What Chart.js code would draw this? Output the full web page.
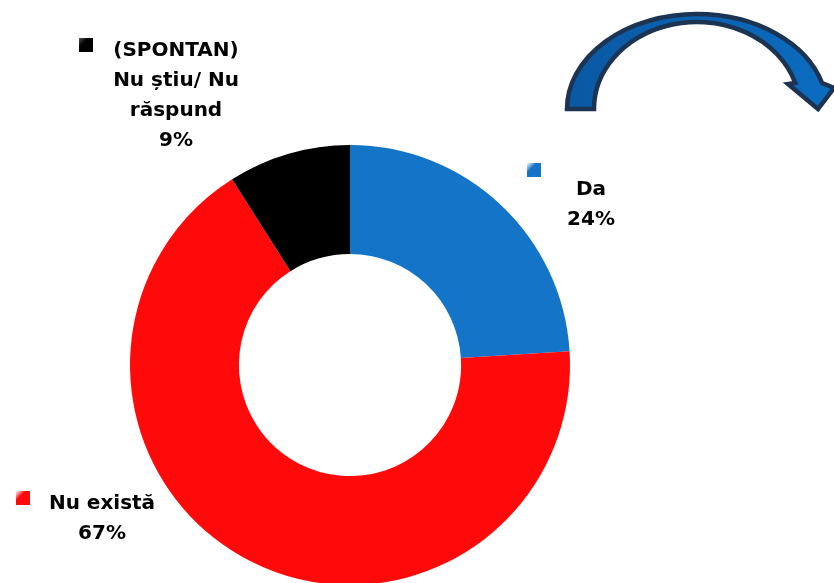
<!DOCTYPE html>
<html>
<head>
<meta charset="utf-8">
<script src="https://cdn.jsdelivr.net/npm/chart.js@4/dist/chart.umd.min.js"></script>
<style>
  html, body { margin: 0; padding: 0; background: #ffffff; overflow: hidden; }
  #wrap { width: 834px; height: 583px; overflow: hidden; }
</style>
</head>
<body>
<div id="wrap"><canvas id="c" width="834" height="600"></canvas></div>
<script>
// ---- Data ----
const categories = ["Da", "Nu există", "(SPONTAN) Nu știu/ Nu răspund"];
const values = [24, 67, 9];
const labelLines = [
  ["Da", "24%"],
  ["Nu există", "67%"],
  ["(SPONTAN)", "Nu știu/ Nu", "răspund", "9%"]
];
const colors = ["#1474c8", "#ff0a0a", "#000000"];

// ---- Label placement (layout only) ----
const labelLayout = [
  { marker: [527, 163], textX: 591, firstBaseline: 195 },
  { marker: [16, 491],  textX: 102, firstBaseline: 509 },
  { marker: [79, 38],   textX: 176, firstBaseline: 56 }
];

const FONT = "bold 20px 'DejaVu Sans', sans-serif";

const labelsPlugin = {
  id: 'calloutLabels',
  afterDraw(chart) {
    const ctx = chart.ctx;
    ctx.save();
    ctx.font = FONT;
    ctx.textAlign = 'center';
    ctx.textBaseline = 'alphabetic';
    labelLayout.forEach((lay, i) => {
      const [mx, my] = lay.marker;
      const g = ctx.createLinearGradient(mx, my, mx + 14, my + 14);
      g.addColorStop(0, colors[i] === "#000000" ? "#555" : "#ffffff");
      g.addColorStop(0.35, colors[i]);
      g.addColorStop(1, colors[i]);
      ctx.fillStyle = g;
      ctx.fillRect(mx, my, 14, 14);
      ctx.fillStyle = "#000000";
      labelLines[i].forEach((ln, k) => {
        ctx.fillText(ln, lay.textX, lay.firstBaseline + k * 30);
      });
    });
    ctx.restore();
  }
};

const arrowPlugin = {
  id: 'curvedArrow',
  afterDraw(chart) {
    const ctx = chart.ctx;
    const cx = 697, cy = 109;
    const orx = 130, ory = 95, irx = 103, iry = 87;
    const tOut = 2 * Math.PI - Math.asin(26 / ory);
    const tIn = 2 * Math.PI - Math.asin(26 / iry);
    ctx.save();
    ctx.beginPath();
    ctx.moveTo(567, 109);
    ctx.ellipse(cx, cy, orx, ory, 0, Math.PI, tOut, false);
    ctx.lineTo(834, 88);
    ctx.lineTo(818, 109);
    ctx.lineTo(788, 84);
    ctx.ellipse(cx, cy, irx, iry, 0, tIn, Math.PI, true);
    ctx.closePath();
    const g = ctx.createLinearGradient(567, 0, 833, 0);
    g.addColorStop(0, "#0a58a3");
    g.addColorStop(1, "#0b6cc0");
    ctx.fillStyle = g;
    ctx.fill();
    ctx.lineJoin = 'miter';
    ctx.lineWidth = 4.5;
    ctx.strokeStyle = "#1c3352";
    ctx.stroke();
    ctx.restore();
  }
};

new Chart(document.getElementById('c'), {
  type: 'doughnut',
  data: {
    labels: categories,
    datasets: [{
      data: values,
      backgroundColor: colors,
      borderWidth: 0,
      hoverOffset: 0
    }]
  },
  options: {
    responsive: false,
    devicePixelRatio: 1,
    animation: false,
    cutout: '50.5%',
    rotation: 0,
    layout: { padding: { left: 130, right: 264, top: 145, bottom: 15 } },
    plugins: {
      legend: { display: false },
      tooltip: { enabled: false }
    }
  },
  plugins: [labelsPlugin, arrowPlugin]
});
</script>
</body>
</html>
